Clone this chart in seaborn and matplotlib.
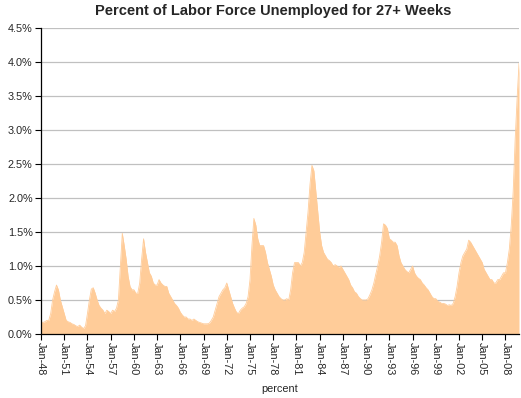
import numpy as np
import pandas as pd
import matplotlib
matplotlib.use("Agg")
import matplotlib.pyplot as plt
import seaborn as sns
from matplotlib.ticker import FuncFormatter

# quarterly values (percent of labor force), 1948 Q1 .. 2009 Q4
years = list(range(1948, 2010))
pct = [
    0.18, 0.17, 0.18, 0.20,   # 1948
    0.20, 0.30, 0.50, 0.62,   # 1949
    0.72, 0.65, 0.50, 0.40,   # 1950
    0.30, 0.20, 0.18, 0.17,   # 1951
    0.15, 0.14, 0.12, 0.11,   # 1952
    0.13, 0.10, 0.08, 0.12,   # 1953
    0.30, 0.50, 0.66, 0.68,   # 1954
    0.60, 0.50, 0.42, 0.38,   # 1955
    0.35, 0.30, 0.35, 0.33,   # 1956
    0.30, 0.35, 0.33, 0.38,   # 1957
    0.50, 1.00, 1.48, 1.30,   # 1958
    1.10, 0.85, 0.70, 0.65,   # 1959
    0.65, 0.60, 0.60, 0.75,   # 1960
    1.10, 1.40, 1.20, 1.05,   # 1961
    0.90, 0.85, 0.75, 0.72,   # 1962
    0.72, 0.80, 0.75, 0.72,   # 1963
    0.70, 0.70, 0.60, 0.55,   # 1964
    0.50, 0.45, 0.42, 0.38,   # 1965
    0.32, 0.28, 0.25, 0.25,   # 1966
    0.22, 0.22, 0.20, 0.22,   # 1967
    0.20, 0.18, 0.17, 0.16,   # 1968
    0.15, 0.15, 0.15, 0.16,   # 1969
    0.20, 0.25, 0.35, 0.45,   # 1970
    0.55, 0.60, 0.65, 0.68,   # 1971
    0.75, 0.65, 0.55, 0.45,   # 1972
    0.38, 0.32, 0.30, 0.35,   # 1973
    0.38, 0.40, 0.45, 0.55,   # 1974
    0.80, 1.30, 1.70, 1.60,   # 1975
    1.40, 1.30, 1.30, 1.30,   # 1976
    1.20, 1.05, 0.95, 0.85,   # 1977
    0.72, 0.65, 0.60, 0.55,   # 1978
    0.52, 0.50, 0.50, 0.52,   # 1979
    0.50, 0.65, 0.90, 1.05,   # 1980
    1.05, 1.05, 1.00, 1.05,   # 1981
    1.20, 1.50, 1.80, 2.20,   # 1982
    2.48, 2.40, 2.10, 1.80,   # 1983
    1.50, 1.30, 1.20, 1.15,   # 1984
    1.10, 1.08, 1.05, 1.00,   # 1985
    1.02, 1.00, 0.98, 1.00,   # 1986
    0.95, 0.90, 0.85, 0.80,   # 1987
    0.72, 0.68, 0.62, 0.60,   # 1988
    0.55, 0.52, 0.50, 0.50,   # 1989
    0.50, 0.52, 0.58, 0.65,   # 1990
    0.75, 0.88, 1.00, 1.15,   # 1991
    1.35, 1.62, 1.60, 1.55,   # 1992
    1.40, 1.38, 1.35, 1.35,   # 1993
    1.30, 1.15, 1.05, 1.00,   # 1994
    0.95, 0.92, 0.90, 0.95,   # 1995
    1.00, 0.90, 0.85, 0.82,   # 1996
    0.80, 0.75, 0.72, 0.68,   # 1997
    0.65, 0.60, 0.55, 0.52,   # 1998
    0.52, 0.48, 0.47, 0.45,   # 1999
    0.45, 0.44, 0.42, 0.43,   # 2000
    0.42, 0.45, 0.55, 0.70,   # 2001
    0.90, 1.05, 1.15, 1.20,   # 2002
    1.25, 1.38, 1.35, 1.30,   # 2003
    1.25, 1.20, 1.15, 1.10,   # 2004
    1.05, 0.95, 0.90, 0.85,   # 2005
    0.80, 0.80, 0.75, 0.75,   # 2006
    0.80, 0.80, 0.85, 0.90,   # 2007
    0.90, 1.05, 1.25, 1.60,   # 2008
    2.10, 2.85, 3.45, 3.98,   # 2009
]

df = pd.DataFrame({"q": np.arange(len(pct)), "percent": pct})
tick_pos = list(range(0, len(pct), 12))
tick_labels = [f"Jan-{y % 100:02d}" for y in years[::3]]

sns.set_style("white")
plt.rcParams["font.family"] = ["Liberation Sans", "DejaVu Sans"]

fig = plt.figure(figsize=(5.21, 3.98), dpi=100)
ax = fig.add_axes([41 / 521, 1 - 334 / 398, 478 / 521, 306 / 398])

fill_col = "#FFCC99"
sns.lineplot(data=df, x="q", y="percent", ax=ax, color=fill_col, linewidth=0.6)
ax.fill_between(df["q"], 0, df["percent"], color=fill_col, linewidth=0)

ax.set_xlim(0, len(pct) - 1)
ax.set_ylim(0, 4.5)
ax.set_yticks(np.arange(0, 4.51, 0.5))
ax.yaxis.set_major_formatter(FuncFormatter(lambda v, _: f"{v:.1f}%"))
ax.set_xticks(tick_pos)
ax.set_xticklabels(tick_labels, rotation=270)
ax.grid(axis="y", color="#C0C0C0", linewidth=0.9)
ax.set_axisbelow(True)

for s in ["top", "right"]:
    ax.spines[s].set_visible(False)
for s in ["left", "bottom"]:
    ax.spines[s].set_color("black")
    ax.spines[s].set_linewidth(0.9)

ax.tick_params(axis="both", direction="out", length=4, width=0.8, color="black",
               labelsize=7.8, bottom=True, left=True, pad=2)
ax.set_xlabel("percent", fontsize=7.8, labelpad=6)
ax.set_ylabel("")
ax.set_title("Percent of Labor Force Unemployed for 27+ Weeks",
             fontsize=10.5, fontweight="bold", pad=9, x=0.485)

fig.savefig("out.png", dpi=100)
